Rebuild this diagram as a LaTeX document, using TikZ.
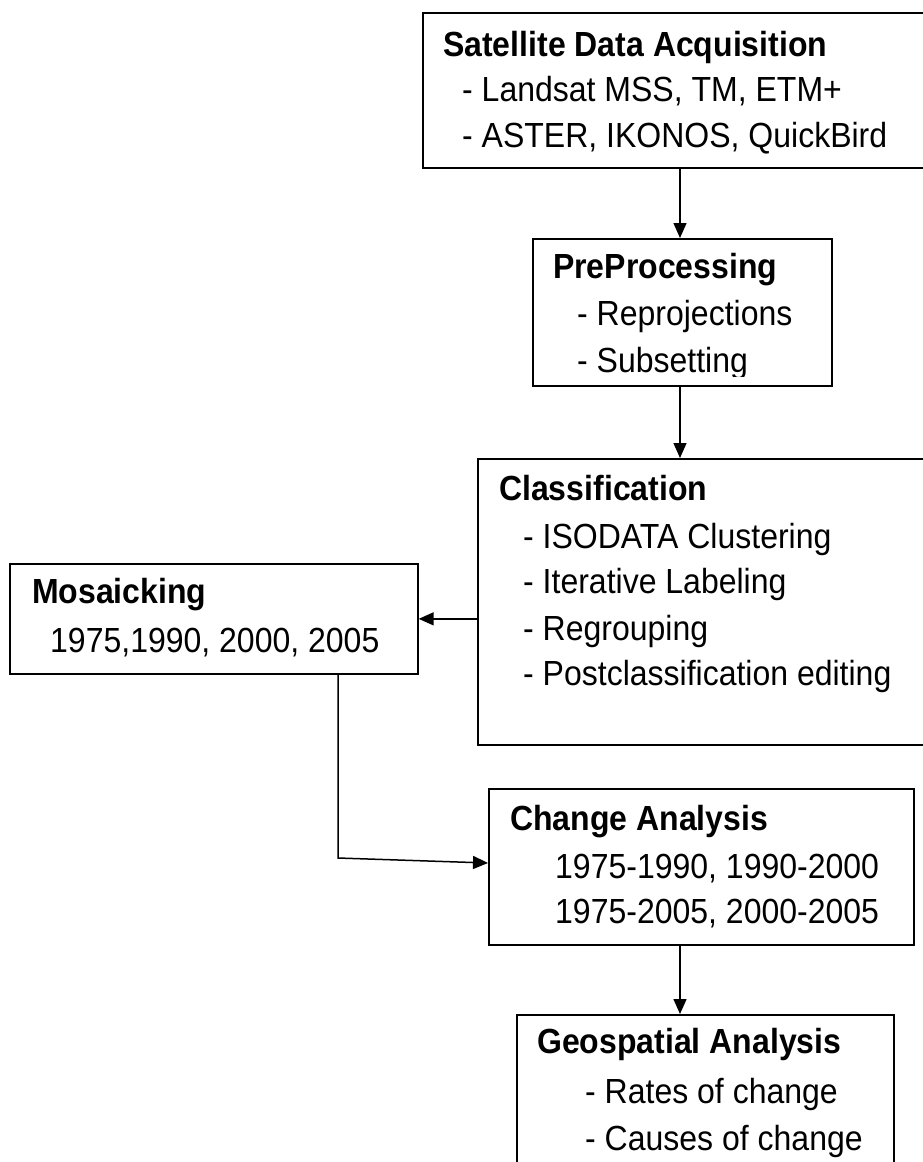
\documentclass[tikz,border=0pt]{standalone}
\usepackage{fontspec}
\usepackage{graphicx}
\setmainfont{Liberation Sans}
\usetikzlibrary{arrows.meta}
\newcommand{\tallt}[1]{\scalebox{1}[1.09]{#1}}
\begin{document}
\begin{tikzpicture}[x=1pt,y=-1pt,
  box/.style={draw=black, line width=1.7pt, rectangle, inner sep=0pt, anchor=north west},
  ttl/.style={anchor=base west, inner sep=0pt, font=\fontsize{32}{38}\selectfont\bfseries},
  itm/.style={anchor=base west, inner sep=0pt, font=\fontsize{32}{38}\selectfont},
  conn/.style={line width=1.5pt, -{Triangle[length=15pt,width=13pt]}}]
\useasboundingbox (0,0) rectangle (923,1162);
\clip (0,0) rectangle (923,1162);
% boxes
\node[box, minimum width=518pt, minimum height=155pt] (sat) at (422,12) {};
\node[box, minimum width=299pt, minimum height=147pt] (pre) at (532,238) {};
\node[box, minimum width=463pt, minimum height=286pt] (cls) at (477,458) {};
\node[box, minimum width=408pt, minimum height=110pt] (mos) at (9,563) {};
\node[box, minimum width=425pt, minimum height=156pt] (chg) at (488,788) {};
\node[box, minimum width=377pt, minimum height=170pt] (geo) at (516,1014) {};
% texts
\node[ttl] (t1) at (443,56) {\tallt{Satellite Data Acquisition}};
\node[itm] (t1a) at (462,101) {\tallt{- Landsat MSS, TM, ETM+}};
\node[itm] (t1b) at (462,147) {\tallt{- ASTER, IKONOS, QuickBird}};
\node[ttl] (t2) at (553,278) {\tallt{PreProcessing}};
\node[itm] (t2a) at (577,325) {\tallt{- Reprojections}};
\begin{scope}
\clip (500,330) rectangle (840,376);
\node[itm] (t2b) at (577,372) {\tallt{- Subsetting}};
\end{scope}
\node[ttl] (t3) at (499,500) {\tallt{Classification}};
\node[itm] (t3a) at (523,548) {\tallt{- ISODATA Clustering}};
\node[itm] (t3b) at (523,593) {\tallt{- Iterative Labeling}};
\node[itm] (t3c) at (523,640) {\tallt{- Regrouping}};
\node[itm] (t3d) at (523,685) {\tallt{- Postclassification editing}};
\node[ttl] (t4) at (32,603) {\tallt{Mosaicking}};
\node[itm] (t4a) at (50,652) {\tallt{1975,1990, 2000, 2005}};
\node[ttl] (t5) at (510,830) {\tallt{Change Analysis}};
\node[itm] (t5a) at (555,878) {\tallt{1975-1990, 1990-2000}};
\node[itm] (t5b) at (555,923) {\tallt{1975-2005, 2000-2005}};
\node[ttl] (t6) at (537,1053) {\tallt{Geospatial Analysis}};
\node[itm] (t6a) at (585,1103) {\tallt{- Rates of change}};
\node[itm] (t6b) at (585,1150) {\tallt{- Causes of change}};
% connectors
\coordinate (ax) at (680,0);
\coordinate (mx) at (338,0);
\coordinate (bend) at (338,858);
\coordinate (cin) at (488,863);
\draw[conn] (sat.south -| ax) -- (pre.north -| ax);
\draw[conn] (pre.south -| ax) -- (cls.north -| ax);
\draw[conn] (mos.east -| cls.west) -- (mos.east);
\draw[conn] (mos.south -| mx) -- (bend) -- (cin);
\draw[conn] (chg.south -| ax) -- (geo.north -| ax);
\end{tikzpicture}
\end{document}
